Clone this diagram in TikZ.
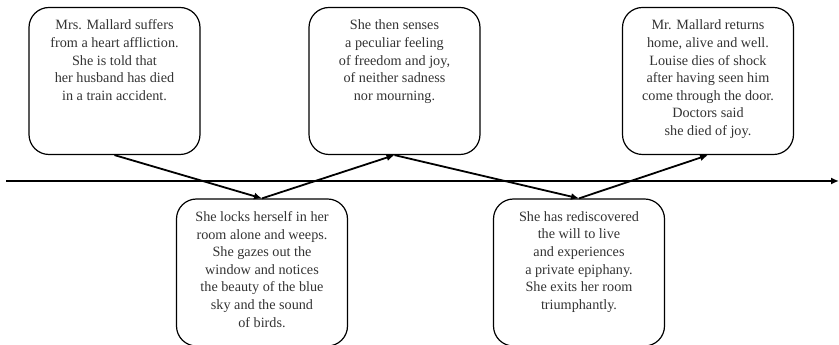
\documentclass[tikz,border=0pt]{standalone}
\usepackage{fontspec}
\setmainfont{Liberation Serif}
\usetikzlibrary{arrows.meta}
\newcommand{\evtext}[1]{\parbox[t][128pt][t]{165pt}{\vspace*{3pt}\centering #1}}

\begin{document}
\begin{tikzpicture}[x=1pt, y=1pt,
    event/.style={draw, line width=1.2pt, rounded corners=20pt, minimum width=171pt,
      minimum height=147pt, inner sep=0pt, text=black!80,
      font=\fontsize{14.2}{17.6}\selectfont},
    link/.style={line width=1.8pt, -{Latex[length=8pt, width=7pt]}}]
  \useasboundingbox (0,0) rectangle (839,345);

  % top row
  \node[event] (e1) at (114.5, 264) {\evtext{Mrs. Mallard suffers\\ from a heart affliction.\\ She is told that\\ her husband has died\\ in a train accident.}};
  \node[event] (e3) at (394.5, 264) {\evtext{She then senses\\ a peculiar feeling\\ of freedom and joy,\\ of neither sadness\\ nor mourning.}};
  \node[event] (e5) at (708, 264) {\evtext{Mr. Mallard returns\\ home, alive and well.\\ Louise dies of shock\\ after having seen him\\ come through the door.\\ Doctors said\\ she died of joy.}};

  % bottom row
  \node[event] (e2) at (262, 72.5) {\evtext{She locks herself in her\\ room alone and weeps.\\ She gazes out the\\ window and notices\\ the beauty of the blue\\ sky and the sound\\ of birds.}};
  \node[event] (e4) at (579, 72.5) {\evtext{She has rediscovered\\ the will to live\\ and experiences\\ a private epiphany.\\ She exits her room\\ triumphantly.}};

  % time axis
  \coordinate (t0) at (6, 164);
  \coordinate (t1) at (839, 164);
  \draw[line width=1.8pt, -{Latex[length=8pt, width=7pt]}] (t0) -- (t1);

  \draw[link] (e1.south) -- (e2.north);
  \draw[link] (e2.north) -- (e3.south);
  \draw[link] (e3.south) -- (e4.north);
  \draw[link] (e4.north) -- (e5.south);
\end{tikzpicture}
\end{document}
